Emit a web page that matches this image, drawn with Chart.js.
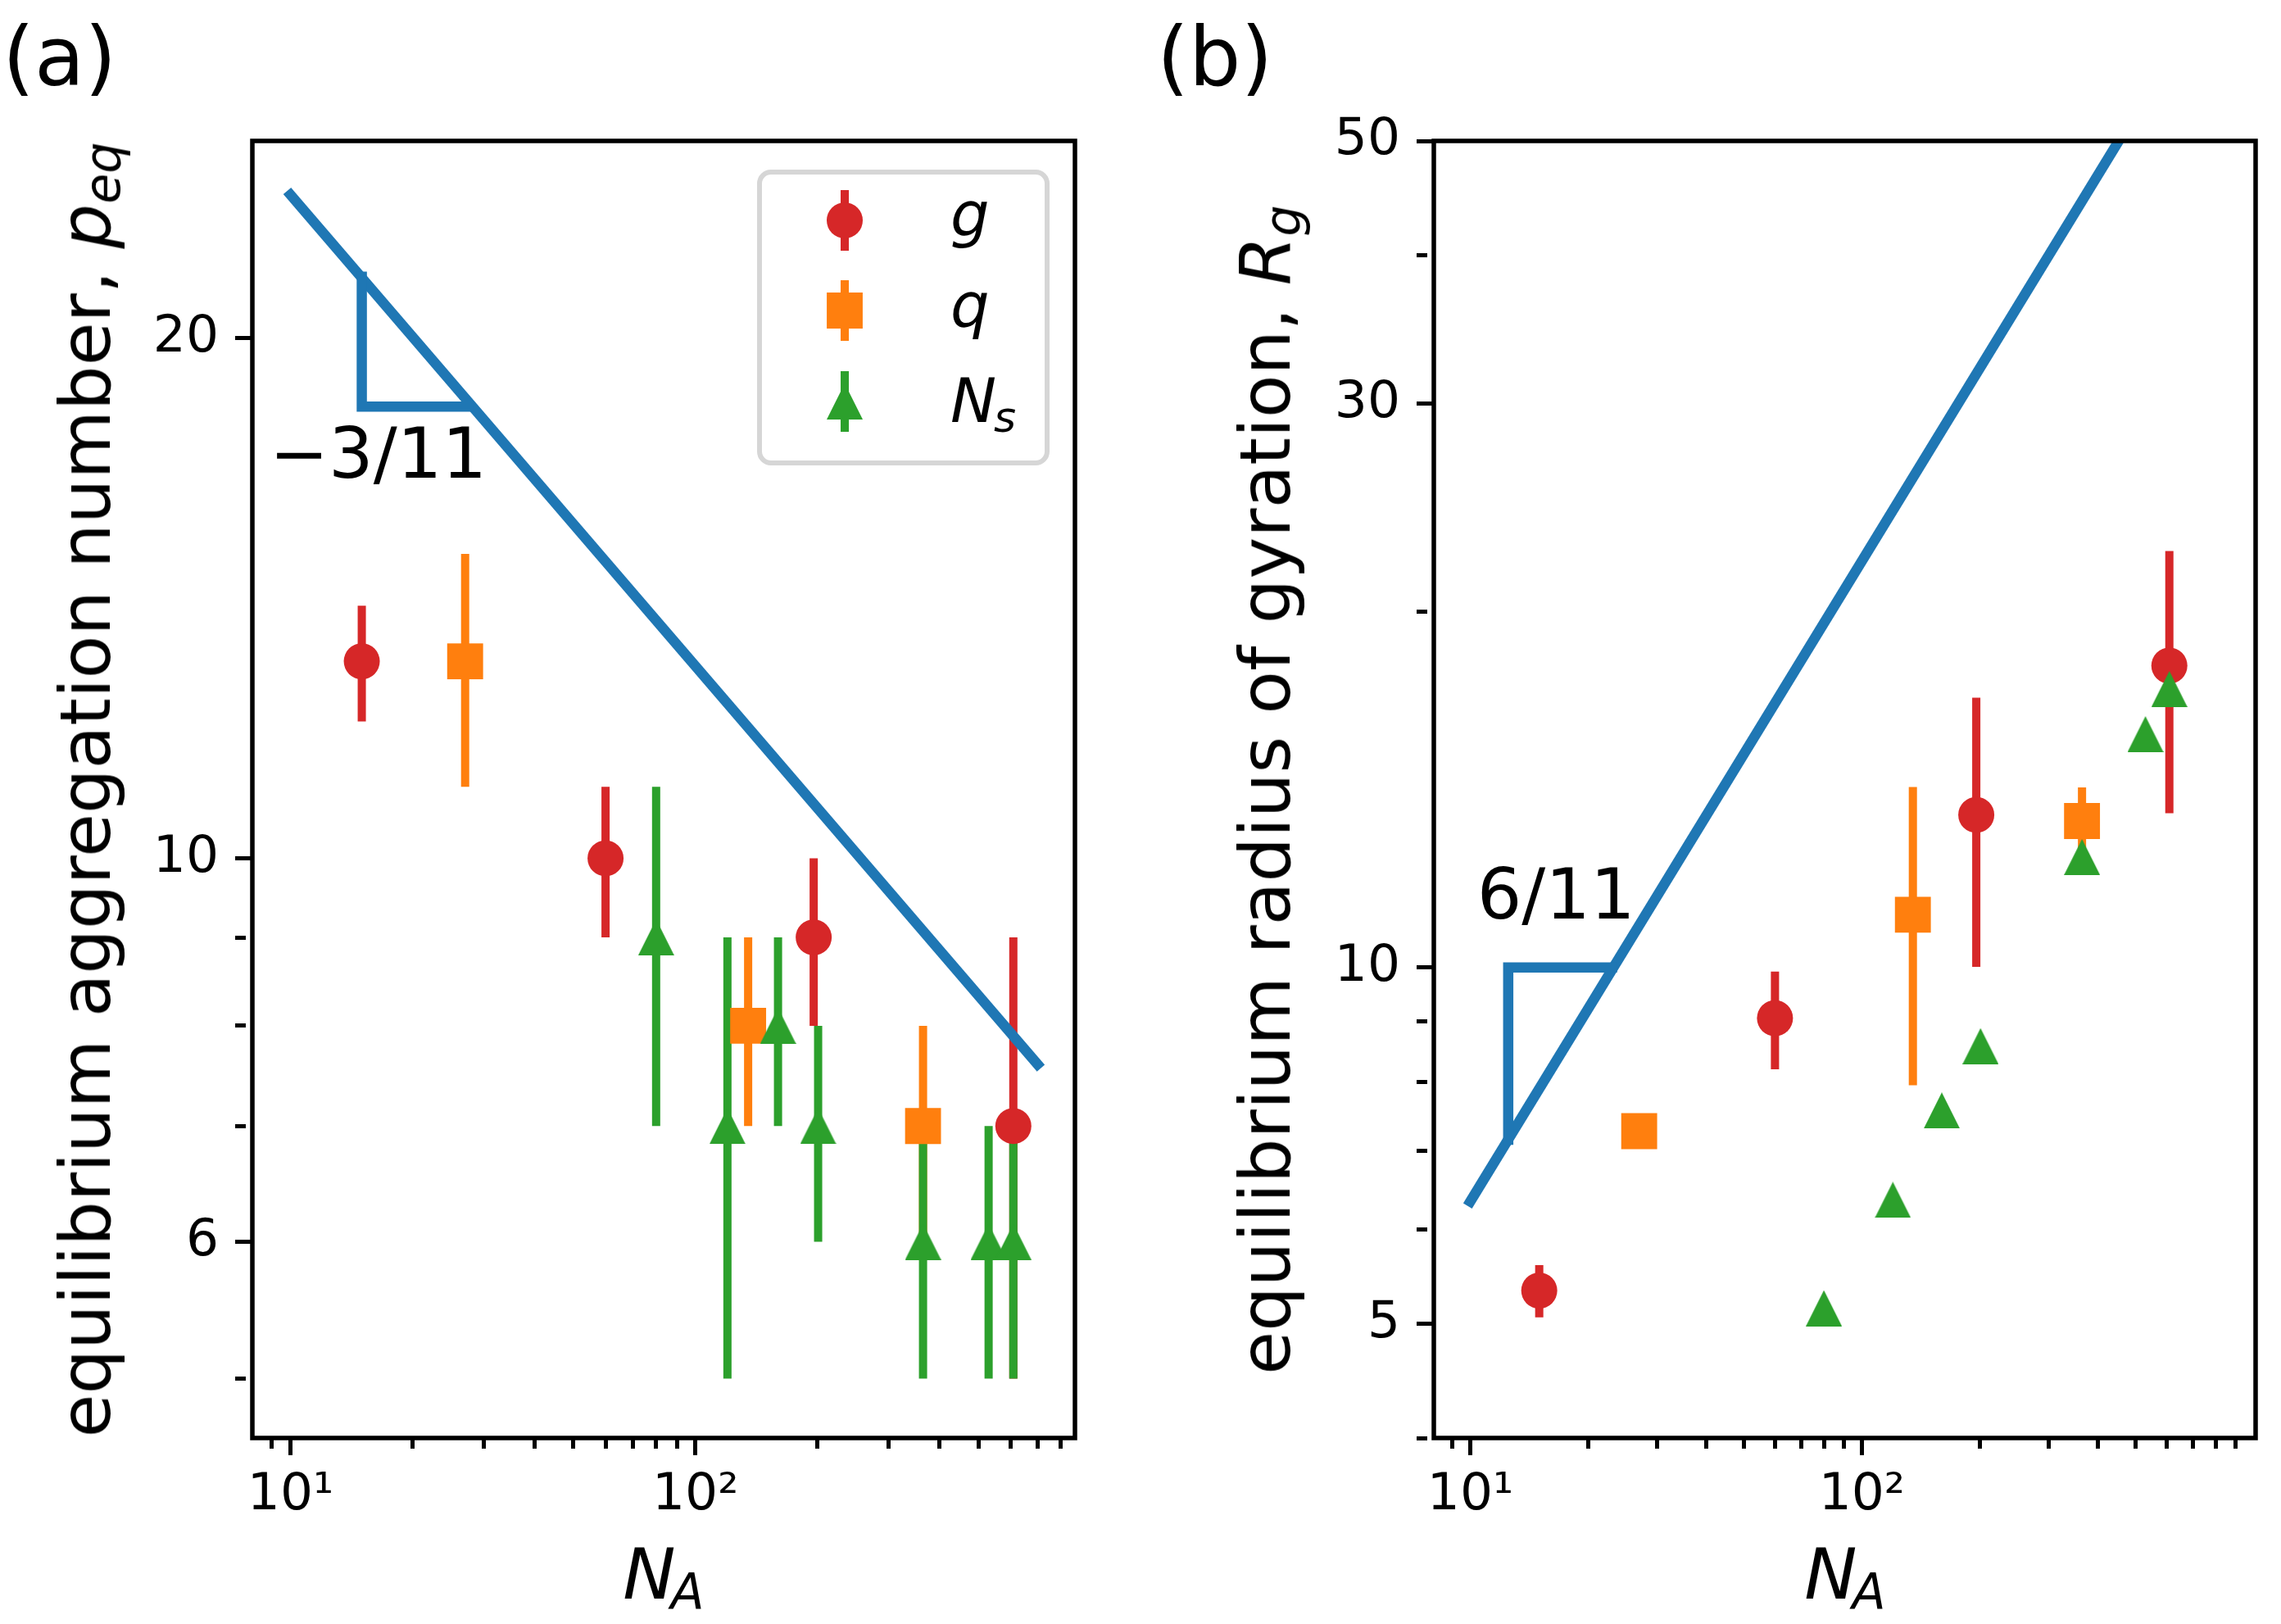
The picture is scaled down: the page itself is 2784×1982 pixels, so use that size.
<!DOCTYPE html>
<html lang="en">
<head>
<meta charset="UTF-8">
<title>Equilibrium aggregation number and radius of gyration</title>
<script src="https://cdn.jsdelivr.net/npm/chart.js@4.4.1/dist/chart.umd.min.js"></script>
<style>
  html, body { margin: 0; padding: 0; background: #fff; }
  body { width: 2784px; height: 1982px; position: relative; overflow: hidden; font-family: 'DejaVu Sans', sans-serif; }
  canvas { position: absolute; top: 0; }
  #chartA { left: 0; }
  #chartB { left: 1400px; }
  .lbl { position: absolute; white-space: nowrap; line-height: 1; color: #000; font-size: 86px; }
  .rot { transform: translate(-50%, -50%) rotate(-90deg); }
  .ctr { transform: translateX(-50%); }
  .sub { position: relative; font-size: 0.7em; top: 0.2em; }
  .panel { font-size: 100px; }
</style>
</head>
<body>
<canvas id="chartA" width="1400" height="1982"></canvas>
<canvas id="chartB" width="1384" height="1982"></canvas>

<div class="lbl panel" style="left:3px; top:20px;">(a)</div>
<div class="lbl panel" style="left:1412px; top:20px;">(b)</div>
<div class="lbl rot" style="left:104px; top:964px;">equilibrium aggregation number, <i>p</i><i class="sub">eq</i></div>
<div class="lbl rot" style="left:1544px; top:964px;">equilibrium radius of gyration, <i>R</i><i class="sub">g</i></div>
<div class="lbl ctr" style="left:810px; top:1878px;"><i>N</i><i class="sub" style="margin-left:-0.1em">A</i></div>
<div class="lbl ctr" style="left:2252px; top:1878px;"><i>N</i><i class="sub" style="margin-left:-0.1em">A</i></div>

<script>
// ---- panel (a): equilibrium aggregation number ----
const naG_a = [15, 60, 196, 610];
const peqG = [13, 10, 9, 7];
const peqGErr = [1, 1, 1, 2];
const naQ_a = [27, 135, 365];
const peqQ = [13, 8, 7];
const peqQErr = [2, 1, 1];
const naNs_a = [80, 120, 160, 201, 365, 530, 610];
const peqNs = [9, 7, 8, 7, 6, 6, 6];
const peqNsErr = [2, 2, 1, 1, 1, 1, 1];
const fitA_x = [10, 700];
const fitA_y = [24.2, 7.6];
const slopeA_x = [15, 15, 27.5];
const slopeA_y = [21.7, 18.25, 18.25];

// ---- panel (b): equilibrium radius of gyration ----
const naG_b = [15, 60, 196, 610];
const rgG = [5.33, 9.06, 13.46, 18.0];
const rgGErr = [0.27, 0.86, 3.45, 4.5];
const naQ_b = [27, 135, 365];
const rgQ = [7.27, 11.08, 13.3];
const rgQErr = [0, 3.13, 0.9];
const naNs_b = [80, 120, 160, 201, 365, 530, 610];
const rgNs = [5.15, 6.36, 7.57, 8.58, 12.4, 15.75, 17.2];
const fitB_x = [10, 453];
const fitB_y = [6.34, 50];
const slopeB_x = [23, 12.5, 12.5];
const slopeB_y = [10, 10, 7.15];

// ---- ticks ----
const xMajor = [10, 100];
const xMajorText = ['10\u00b9', '10\u00b2'];
const xMinor = [9, 20, 30, 40, 50, 60, 70, 80, 90, 200, 300, 400, 500, 600, 700, 800, 900];
const yMajorA = [6, 10, 20];
const yMinorA = [5, 7, 8, 9];
const yMajorB = [5, 10, 30, 50];
const yMinorB = [4, 6, 7, 8, 9, 20, 40];

const RED = '#d62728', ORANGE = '#ff7f0e', GREEN = '#2ca02c', BLUE = '#1f77b4';
const FONT = 'DejaVu Sans';
const MAJOR_LEN = 21, MINOR_LEN = 13;

function triangleMarker(color, size) {
    const c = document.createElement('canvas');
    c.width = size; c.height = size;
    const g = c.getContext('2d');
    g.fillStyle = color;
    g.beginPath();
    g.moveTo(size / 2, 0);
    g.lineTo(size, size);
    g.lineTo(0, size);
    g.closePath();
    g.fill();
    return c;
}
const triGreen = triangleMarker(GREEN, 44);

function errorBars(xs, ys, es, color, order) {
    const pts = [];
    xs.forEach((x, i) => {
        pts.push({x: x, y: ys[i] - es[i]}, {x: x, y: ys[i] + es[i]}, {x: x, y: null});
    });
    return {
        data: pts, showLine: true, spanGaps: false, borderColor: color, borderWidth: 10,
        borderCapStyle: 'butt', pointRadius: 0, order: order
    };
}

function markers(xs, ys, color, style, radius, order) {
    return {
        data: xs.map((x, i) => ({x: x, y: ys[i]})), showLine: false,
        pointStyle: style, pointRadius: radius, pointBackgroundColor: color,
        pointBorderWidth: 0, order: order
    };
}

function line(xs, ys, order) {
    return {
        data: xs.map((x, i) => ({x: x, y: ys[i]})), showLine: true, borderColor: BLUE,
        borderWidth: 12.5, borderCapStyle: 'square', borderJoinStyle: 'miter',
        pointRadius: 0, clip: 0, order: order
    };
}

function buildTicks(majors, minors, min, max) {
    const t = majors.map(v => ({value: v, mj: true}))
        .concat(minors.map(v => ({value: v, mj: false})))
        .filter(t => t.value >= min * 0.999 && t.value <= max * 1.001);
    t.sort((a, b) => a.value - b.value);
    return t;
}

function logAxis(pos, range, majors, minors, labelFn, size, pad) {
    return {
        type: 'logarithmic', position: pos, min: range[0], max: range[1], bounds: 'data',
        border: {display: false},
        grid: {
            drawOnChartArea: false, drawTicks: true, tickLength: MAJOR_LEN, tickWidth: 5, tickColor: '#000',
            tickBorderDash: (c) => (c.tick && c.tick.mj) ? [] : [MINOR_LEN, 1000]
        },
        ticks: {
            autoSkip: false, maxRotation: 0, minRotation: 0, padding: pad, color: '#000',
            font: {family: FONT, size: 63}, callback: (v) => labelFn(v)
        },
        afterBuildTicks: (s) => { s.ticks = buildTicks(majors, minors, s.min, s.max); },
        afterFit: (s) => { if (pos === 'bottom') s.height = size; else s.width = size; }
    };
}

const xLabel = (v) => { const i = xMajor.indexOf(v); return i >= 0 ? xMajorText[i] : ''; };

// axes frame and slope label
const framePlugin = {
    id: 'frame',
    afterDraw(chart, args, opts) {
        const {ctx, chartArea: a} = chart;
        ctx.save();
        if (opts.label) {
            const px = chart.scales.x.getPixelForValue(opts.label.x);
            const py = chart.scales.y.getPixelForValue(opts.label.y);
            ctx.font = '86px "' + FONT + '"';
            ctx.fillStyle = '#000';
            ctx.textAlign = 'left';
            ctx.textBaseline = 'alphabetic';
            ctx.fillText(opts.label.text, px, py);
        }
        ctx.lineWidth = 5.5;
        ctx.strokeStyle = '#000';
        ctx.strokeRect(a.left, a.top, a.right - a.left, a.bottom - a.top);
        ctx.restore();
    }
};

// legend box of panel (a)
const legendPlugin = {
    id: 'legendBox',
    afterDraw(chart) {
        const {ctx, chartArea: a} = chart;
        const left = a.right - 385, top = a.top + 38, w = 351, h = 355;
        ctx.save();
        ctx.beginPath();
        ctx.roundRect(left, top, w, h, 14);
        ctx.fillStyle = 'rgba(255,255,255,0.8)';
        ctx.fill();
        ctx.lineWidth = 6;
        ctx.strokeStyle = '#d6d6d6';
        ctx.stroke();

        const entries = [
            {color: RED, style: 'circle', r: 22, dy: 59, text: 'g', tb: 78},
            {color: ORANGE, style: 'rect', r: 31, dy: 169, text: 'q', tb: 189},
            {color: GREEN, style: triGreen, r: 22, dy: 280, text: 'N', sub: 's', tb: 305}
        ];
        entries.forEach(e => {
            const mx = left + 104, my = top + e.dy;
            ctx.fillStyle = e.color;
            ctx.fillRect(mx - 5, my - 37, 10, 74);
            if (typeof e.style !== 'string') {
                ctx.drawImage(e.style, mx - e.style.width / 2, my - e.style.height / 2);
            } else {
                Chart.helpers.drawPoint(ctx, {pointStyle: e.style, radius: e.r, rotation: 0, borderWidth: 0}, mx, my);
            }
            ctx.fillStyle = '#000';
            ctx.font = 'italic 75px "' + FONT + '"';
            ctx.fillText(e.text, left + 233, top + e.tb);
            if (e.sub) {
                const tw = ctx.measureText(e.text).width;
                ctx.font = 'italic 52px "' + FONT + '"';
                ctx.fillText(e.sub, left + 233 + tw - 3, top + e.tb + 12);
            }
        });
        ctx.restore();
    }
};

function makeChart(id, datasets, xRange, yRange, yMajor, yMinor, yWidth, rightPad, plugins, label) {
    return new Chart(document.getElementById(id), {
        type: 'scatter',
        data: {datasets: datasets},
        options: {
            responsive: false, animation: false, events: [],
            layout: {padding: {left: 0, top: 172, right: rightPad, bottom: 107}},
            scales: {
                x: logAxis('bottom', xRange, xMajor, xMinor, xLabel, 120, 12),
                y: logAxis('left', yRange, yMajor, yMinor, (v) => yMajor.includes(v) ? String(v) : '', yWidth, 20)
            },
            plugins: {legend: {display: false}, tooltip: {enabled: false}, frame: {label: label}}
        },
        plugins: plugins
    });
}

makeChart('chartA', [
    errorBars(naG_a, peqG, peqGErr, RED, 30),
    errorBars(naQ_a, peqQ, peqQErr, ORANGE, 29),
    errorBars(naNs_a, peqNs, peqNsErr, GREEN, 28),
    markers(naG_a, peqG, RED, 'circle', 22, 12),
    markers(naQ_a, peqQ, ORANGE, 'rect', 31, 11),
    markers(naNs_a, peqNs, GREEN, triGreen, 22, 10),
    line(fitA_x, fitA_y, 5),
    line(slopeA_x, slopeA_y, 4)
], [8.05, 866], [4.62, 26.0], yMajorA, yMinorA, 308, 88, [framePlugin, legendPlugin],
   {text: '\u22123/11', x: 8.88, y: 16.6});

makeChart('chartB', [
    errorBars(naG_b, rgG, rgGErr, RED, 30),
    errorBars(naQ_b, rgQ, rgQErr, ORANGE, 29),
    markers(naG_b, rgG, RED, 'circle', 22, 12),
    markers(naQ_b, rgQ, ORANGE, 'rect', 31, 11),
    markers(naNs_b, rgNs, GREEN, triGreen, 22, 10),
    line(fitB_x, fitB_y, 5),
    line(slopeB_x, slopeB_y, 4)
], [8.07, 1013], [4, 50], yMajorB, yMinorB, 350, 31, [framePlugin],
   {text: '6/11', x: 10.4, y: 11.0});
</script>
</body>
</html>
